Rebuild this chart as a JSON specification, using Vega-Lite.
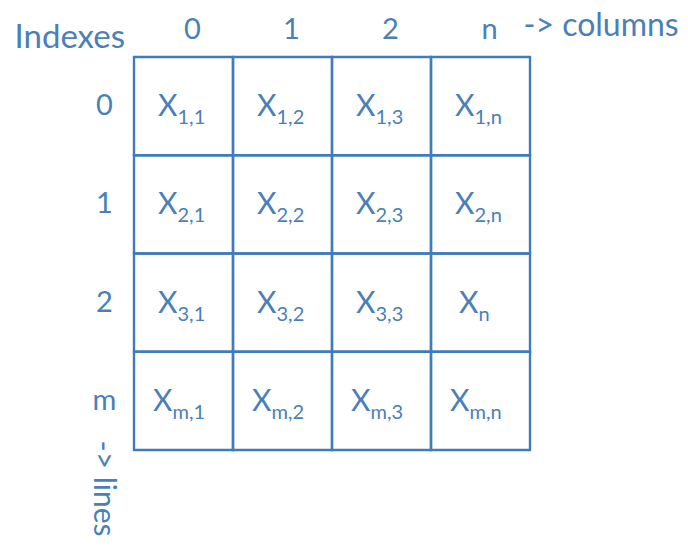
{
  "$schema": "https://vega.github.io/schema/vega-lite/v6.json",
  "width": 396,
  "height": 393,
  "autosize": "none",
  "padding": {"left": 134, "top": 57, "right": 158, "bottom": 97},
  "background": "white",
  "config": {"view": {"stroke": null}, "font": "Lato"},
  "data": {"values": [
    {"r": "0", "c": "0", "sub": "1,1", "kind": "d"},
    {"r": "0", "c": "1", "sub": "1,2", "kind": "d"},
    {"r": "0", "c": "2", "sub": "1,3", "kind": "d"},
    {"r": "0", "c": "n", "sub": "1,n", "kind": "d"},
    {"r": "1", "c": "0", "sub": "2,1", "kind": "d"},
    {"r": "1", "c": "1", "sub": "2,2", "kind": "d"},
    {"r": "1", "c": "2", "sub": "2,3", "kind": "d"},
    {"r": "1", "c": "n", "sub": "2,n", "kind": "d"},
    {"r": "2", "c": "0", "sub": "3,1", "kind": "d"},
    {"r": "2", "c": "1", "sub": "3,2", "kind": "d"},
    {"r": "2", "c": "2", "sub": "3,3", "kind": "d"},
    {"r": "2", "c": "n", "sub": "n", "kind": "s"},
    {"r": "m", "c": "0", "sub": "m,1", "kind": "m"},
    {"r": "m", "c": "1", "sub": "m,2", "kind": "m"},
    {"r": "m", "c": "2", "sub": "m,3", "kind": "m"},
    {"r": "m", "c": "n", "sub": "m,n", "kind": "m"}
  ]},
  "resolve": {"axis": {"x": "independent"}},
  "layer": [
    {
      "mark": {"type": "rect", "fill": null, "stroke": "#3f7cbc", "strokeWidth": 2.4},
      "encoding": {
        "x": {"field": "c", "type": "ordinal", "sort": ["0", "1", "2", "n"],
          "scale": {"paddingInner": 0, "paddingOuter": 0},
          "axis": {"orient": "top", "domain": false, "ticks": false, "labelAngle": 0,
            "labelFontSize": 29, "labelColor": "#4a7fb8", "labelPadding": 19,
            "labelBaseline": "alphabetic", "labelOffset": 9,
            "title": "-> columns", "titleFontSize": 32, "titleFontWeight": "normal",
            "titleColor": "#4a7fb8", "titleAlign": "left", "titleBaseline": "alphabetic",
            "titleX": 389, "titleY": -22, "titleAngle": 0}},
        "y": {"field": "r", "type": "ordinal", "sort": ["0", "1", "2", "m"],
          "scale": {"paddingInner": 0, "paddingOuter": 0},
          "axis": {"orient": "left", "domain": false, "ticks": false,
            "labelFontSize": 29, "labelColor": "#4a7fb8", "labelPadding": 30,
            "labelAlign": "center",
            "title": "Indexes", "titleFontSize": 33, "titleFontWeight": "normal",
            "titleColor": "#4a7fb8", "titleAngle": 0, "titleAlign": "left",
            "titleBaseline": "alphabetic", "titleX": -120, "titleY": -10}}
      }
    },
    {
      "mark": {"type": "text", "text": "X", "fontSize": 30, "color": "#4a7fb8",
        "align": "right", "baseline": "alphabetic", "dx": -6, "dy": 10},
      "transform": [{"filter": "datum.kind == 'd'"}],
      "encoding": {
        "x": {"field": "c", "type": "ordinal", "sort": ["0", "1", "2", "n"],
          "axis": {"orient": "bottom", "labels": false, "domain": false, "ticks": false,
            "title": "-> lines", "titleFontSize": 30, "titleFontWeight": "normal",
            "titleColor": "#4a7fb8", "titleAngle": 90, "titleAlign": "left",
            "titleBaseline": "alphabetic", "titleX": -41, "titleY": -10}},
        "y": {"field": "r", "type": "ordinal", "sort": ["0", "1", "2", "m"]}
      }
    },
    {
      "mark": {"type": "text", "text": "X", "fontSize": 30, "color": "#4a7fb8",
        "align": "right", "baseline": "alphabetic", "dx": -11, "dy": 10},
      "transform": [{"filter": "datum.kind == 'm'"}],
      "encoding": {
        "x": {"field": "c", "type": "ordinal", "sort": ["0", "1", "2", "n"], "axis": null},
        "y": {"field": "r", "type": "ordinal", "sort": ["0", "1", "2", "m"]}
      }
    },
    {
      "mark": {"type": "text", "text": "X", "fontSize": 30, "color": "#4a7fb8",
        "align": "right", "baseline": "alphabetic", "dx": -2, "dy": 10},
      "transform": [{"filter": "datum.kind == 's'"}],
      "encoding": {
        "x": {"field": "c", "type": "ordinal", "sort": ["0", "1", "2", "n"], "axis": null},
        "y": {"field": "r", "type": "ordinal", "sort": ["0", "1", "2", "m"]}
      }
    },
    {
      "mark": {"type": "text", "fontSize": 20, "color": "#4a7fb8",
        "align": "left", "baseline": "alphabetic", "dx": -6, "dy": 18},
      "transform": [{"filter": "datum.kind == 'd'"}],
      "encoding": {
        "x": {"field": "c", "type": "ordinal", "sort": ["0", "1", "2", "n"], "axis": null},
        "y": {"field": "r", "type": "ordinal", "sort": ["0", "1", "2", "m"]},
        "text": {"field": "sub"}
      }
    },
    {
      "mark": {"type": "text", "fontSize": 20, "color": "#4a7fb8",
        "align": "left", "baseline": "alphabetic", "dx": -11, "dy": 18},
      "transform": [{"filter": "datum.kind == 'm'"}],
      "encoding": {
        "x": {"field": "c", "type": "ordinal", "sort": ["0", "1", "2", "n"], "axis": null},
        "y": {"field": "r", "type": "ordinal", "sort": ["0", "1", "2", "m"]},
        "text": {"field": "sub"}
      }
    },
    {
      "mark": {"type": "text", "fontSize": 20, "color": "#4a7fb8",
        "align": "left", "baseline": "alphabetic", "dx": -2, "dy": 18},
      "transform": [{"filter": "datum.kind == 's'"}],
      "encoding": {
        "x": {"field": "c", "type": "ordinal", "sort": ["0", "1", "2", "n"], "axis": null},
        "y": {"field": "r", "type": "ordinal", "sort": ["0", "1", "2", "m"]},
        "text": {"field": "sub"}
      }
    }
  ]
}
